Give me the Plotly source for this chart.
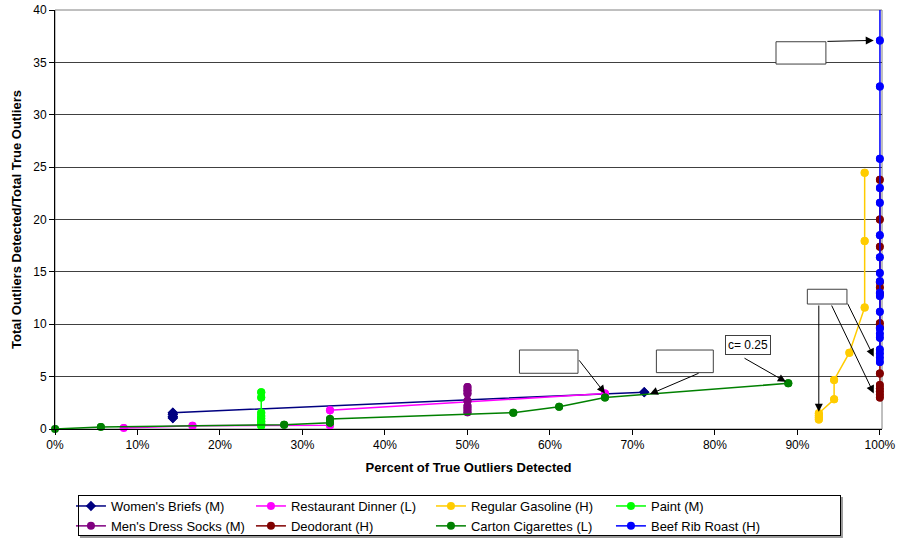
import plotly.graph_objects as go

# Share of true outliers detected (x) vs. total detected / total true outliers (y)
briefs_x = [1/7, 1/7, 1/7, 1/7, 5/7]
briefs_y = [1.05, 1.2, 1.4, 1.56, 3.52]

dinner_x = [1/12, 2/12, 4/12, 4/12, 8/12]
dinner_y = [0.1, 0.32, 0.36, 1.8, 3.38]

gasoline_x = [50/54, 50/54, 50/54, 50/54, 51/54, 51/54, 52/54, 53/54, 53/54, 53/54]
gasoline_y = [0.9, 1.1, 1.3, 1.5, 2.83, 4.68, 7.28, 11.6, 17.95, 24.47]

paint_x = [0.25] * 8
paint_y = [0.3, 0.5, 0.75, 1.0, 1.25, 1.55, 3.0, 3.5]

socks_x = [0.5] * 7
socks_y = [1.6, 1.9, 2.2, 2.7, 3.4, 3.7, 4.0]

deodorant_y = [3.0, 3.3, 3.6, 3.9, 4.2, 5.3, 9.7, 10.1, 12.9, 13.5, 14.0, 17.4, 20.0, 23.8]
deodorant_x = [1.0] * len(deodorant_y)

cigarettes_x = [0, 1/18, 5/18, 6/18, 6/18, 10/18, 11/18, 12/18, 16/18]
cigarettes_y = [0, 0.19, 0.41, 0.6, 0.95, 1.56, 2.13, 3.0, 4.36]

beef_y = [6.4, 6.8, 7.2, 7.6, 8.7, 9.1, 9.6, 11.2, 12.7, 13.0, 14.1, 14.9,
          16.4, 18.5, 21.6, 23.0, 25.8, 32.7, 37.1, 45.0]
beef_x = [1.0] * len(beef_y)

x_ticks = [i / 10 for i in range(11)]
y_ticks = list(range(0, 41, 5))

FONT = "Liberation Sans, Arial, sans-serif"

series = [
    ("Women's Briefs (M)", briefs_x, briefs_y, "#000080", "diamond", 8),
    ("Restaurant Dinner (L)", dinner_x, dinner_y, "#FF00FF", "circle", 8),
    ("Regular Gasoline (H)", gasoline_x, gasoline_y, "#FFCC00", "circle", 8),
    ("Paint (M)", paint_x, paint_y, "#00FF00", "circle", 8),
    ("Men's Dress Socks (M)", socks_x, socks_y, "#800080", "circle", 8),
    ("Deodorant (H)", deodorant_x, deodorant_y, "#800000", "circle", 8),
    ("Carton Cigarettes (L)", cigarettes_x, cigarettes_y, "#008000", "circle", 8),
    ("Beef Rib Roast (H)", beef_x, beef_y, "#0000FF", "circle", 8),
]

fig = go.Figure()
for name, xs, ys, color, symbol, size in series:
    # connecting line, clipped to the plot area (also provides the legend entry)
    fig.add_trace(go.Scatter(
        x=xs, y=ys, name=name, mode="lines+markers", legendgroup=name,
        line=dict(color=color, width=1.5),
        marker=dict(color=color, symbol=symbol, size=size),
        cliponaxis=True,
    ))
    # markers left unclipped so points on the axes stay whole
    fig.add_trace(go.Scatter(
        x=xs, y=ys, name=name, mode="markers", legendgroup=name, showlegend=False,
        marker=dict(color=color, symbol=symbol, size=size),
        cliponaxis=False, hoverinfo="skip",
    ))

# plot-area frame (light grey top/right edges)
fig.add_shape(type="rect", xref="paper", yref="paper", x0=0, x1=1, y0=0, y1=1,
              line=dict(color="#808080", width=1), layer="between")

# legend drop shadow
fig.add_shape(type="rect", xref="paper", yref="paper",
              x0=0.0302, x1=0.9528, y0=-0.2602, y1=-0.1623,
              line=dict(width=0), fillcolor="#9a9a9a", layer="above")
fig.add_shape(type="rect", xref="paper", yref="paper",
              x0=0.0278, x1=0.9504, y0=-0.2554, y1=-0.1575,
              line=dict(width=0), fillcolor="white", layer="above")
# legend frame
fig.add_annotation(x=0.4891, y=-0.2064, xref="paper", yref="paper",
                   xanchor="center", yanchor="middle", text=" ", showarrow=False,
                   width=761, height=39, borderpad=0, borderwidth=1,
                   bordercolor="black", bgcolor="rgba(0,0,0,0)")

# empty callout boxes
boxes = [
    (0.874, 0.9345, 34.84, 36.97),
    (0.912, 0.960, 11.93, 13.34),
    (0.563, 0.634, 5.32, 7.54),
    (0.729, 0.798, 5.38, 7.54),
]
for x0, x1, y0, y1 in boxes:
    fig.add_shape(type="rect", xref="x", yref="y", x0=x0, x1=x1, y0=y0, y1=y1,
                  line=dict(color="#404040", width=1), fillcolor="white", layer="above")

# labelled callout
fig.add_annotation(x=0.8403, y=8.02, xref="x", yref="y", text="c= 0.25", showarrow=False,
                   font=dict(family=FONT, size=12, color="black"),
                   bordercolor="#404040", borderwidth=1, bgcolor="white", borderpad=2)

# arrows: (tip x, tip y, tail x, tail y)
arrows = [
    (0.9925, 37.1, 0.9345, 37.0),
    (0.9259, 1.65, 0.9259, 11.93),
    (0.9925, 3.4, 0.9406, 11.93),
    (0.9925, 6.9, 0.960, 12.1),
    (0.6667, 3.4, 0.634, 6.7),
    (0.7212, 3.33, 0.782, 5.38),
    (0.886, 4.5, 0.834, 6.84),
]
for tx, ty, ax_, ay_ in arrows:
    fig.add_annotation(x=tx, y=ty, ax=ax_, ay=ay_, xref="x", yref="y", axref="x", ayref="y",
                       text="", showarrow=True, arrowhead=2, arrowsize=1.6,
                       arrowwidth=1, arrowcolor="black")

fig.update_layout(
    width=899, height=542,
    margin=dict(l=55, r=17, t=10, b=113, autoexpand=False),
    paper_bgcolor="white", plot_bgcolor="white",
    font=dict(family=FONT, size=12, color="black"),
    showlegend=True,
    legend=dict(
        orientation="h", x=0.0193, y=-0.148, xanchor="left", yanchor="top",
        entrywidth=135, entrywidthmode="pixels",
        borderwidth=0, bgcolor="rgba(0,0,0,0)",
        font=dict(family=FONT, size=13, color="black"),
        itemwidth=30, traceorder="normal",
    ),
    xaxis=dict(
        range=[0, 1.0025], tickvals=x_ticks, tickformat=".0%",
        showgrid=False, zeroline=False, automargin=False,
        showline=True, linecolor="black", linewidth=1,
        ticks="outside", ticklen=5, tickcolor="black",
        tickfont=dict(family=FONT, size=12, color="black"),
        title=dict(text="<b>Percent of True Outliers Detected</b>", standoff=11,
                   font=dict(family=FONT, size=13, color="black")),
    ),
    yaxis=dict(
        range=[0, 40], tickvals=y_ticks, automargin=False,
        showgrid=True, gridcolor="#404040", gridwidth=1, zeroline=False,
        showline=True, linecolor="black", linewidth=1,
        ticks="outside", ticklen=5, tickcolor="black",
        tickfont=dict(family=FONT, size=12, color="black"),
        title=dict(text="<b>Total Outliers Detected/Total True Outliers</b>", standoff=8,
                   font=dict(family=FONT, size=13, color="black")),
    ),
)

fig.write_html("out.html")
